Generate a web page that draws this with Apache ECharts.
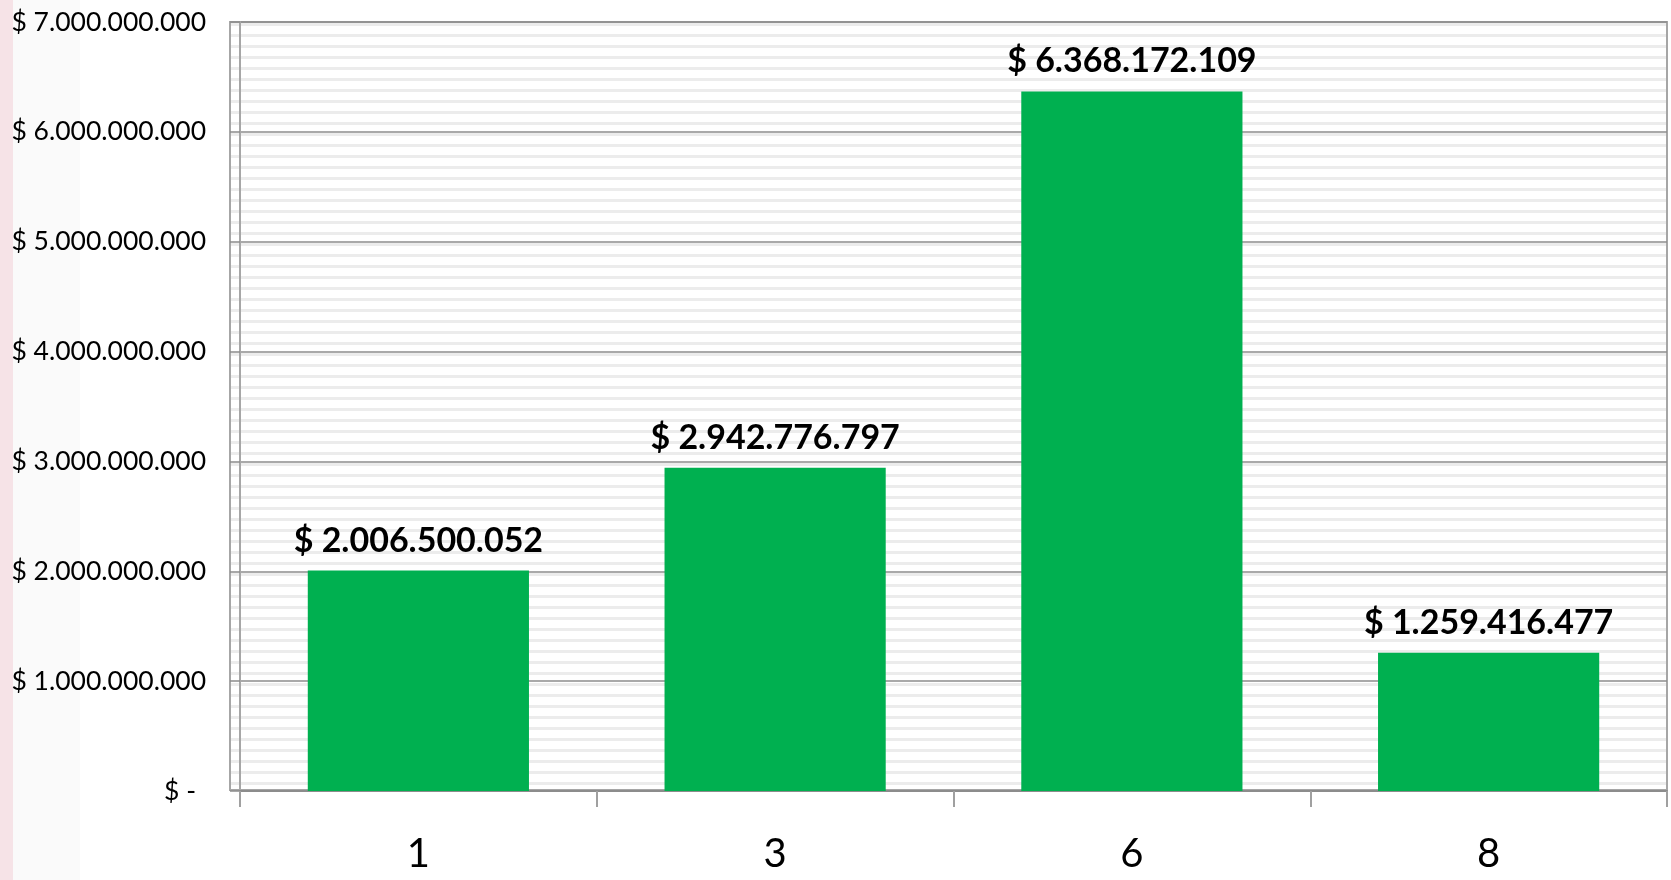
<!DOCTYPE html>
<html>
<head>
<meta charset="utf-8">
<script src="https://cdn.jsdelivr.net/npm/echarts@6/dist/echarts.min.js"></script>
<style>
  html, body { margin: 0; padding: 0; background: #fff; }
  #chart { width: 1671px; height: 880px; }
</style>
</head>
<body>
<div id="chart"></div>
<script>
// datos del grafico
var categorias = ['1', '3', '6', '8'];
var valores = [2006500052, 2942776797, 6368172109, 1259416477];
var ejeMax = 7000000000;
var ejePaso = 1000000000;

function miles(v) {
    return String(Math.round(v)).replace(/\B(?=(\d{3})+(?!\d))/g, '.');
}

// fondo rayado del area del grafico
function rayas() {
    var c = document.createElement('canvas');
    c.width = 8;
    c.height = 11;
    var ctx = c.getContext('2d');
    ctx.fillStyle = '#ffffff';
    ctx.fillRect(0, 0, 8, 11);
    ctx.fillStyle = '#ececec';
    ctx.fillRect(0, 1, 8, 3);
    return c;
}

var myChart = echarts.init(document.getElementById('chart'));

var options = {
    backgroundColor: '#ffffff',
    animation: false,
    textStyle: { fontFamily: 'Lato' },
    graphic: [
        { type: 'rect', left: 0, top: 0, shape: { width: 13, height: 880 }, style: { fill: '#f6e3e7' }, silent: true, z: -10 },
        { type: 'rect', left: 13, top: 0, shape: { width: 67, height: 880 }, style: { fill: '#fafafa' }, silent: true, z: -10 },
        {
            type: 'rect', x: 230, y: 22,
            shape: { x: 0, y: 0, width: 1437, height: 768 },
            style: { fill: { image: rayas(), repeat: 'repeat' }, stroke: '#a6a6a6', lineWidth: 2 },
            silent: true, z: -5
        }
    ],
    grid: {
        left: 240,
        right: 4,
        top: 22,
        bottom: 89
    },
    xAxis: {
        type: 'category',
        data: categorias,
        axisLine: { lineStyle: { color: '#8c8c8c', width: 2 } },
        axisTick: { show: true, length: 16, lineStyle: { color: '#a0a0a0', width: 2 } },
        axisLabel: { fontSize: 40, color: '#000', margin: 43, fontFamily: 'Lato' }
    },
    yAxis: {
        type: 'value',
        min: 0,
        max: ejeMax,
        interval: ejePaso,
        axisLine: { show: true, lineStyle: { color: '#a6a6a6', width: 2 } },
        axisTick: { show: true, length: 10, lineStyle: { color: '#8c8c8c', width: 1.5 } },
        splitLine: { show: true, lineStyle: { color: '#8c8c8c', width: 1.5 } },
        axisLabel: {
            fontSize: 26.5,
            color: '#000',
            margin: 34,
            fontFamily: 'Lato',
            formatter: function (v) {
                if (v === 0) return '{z|$ -}';
                return '$ ' + miles(v);
            },
            rich: {
                z: { fontSize: 26.5, color: '#000', fontFamily: 'Lato', padding: [0, 10, 0, 0] }
            }
        }
    },
    series: [
        {
            type: 'bar',
            data: valores,
            barWidth: '62%',
            itemStyle: { color: '#00b050' },
            label: {
                show: true,
                position: 'top',
                distance: 13,
                fontSize: 34,
                fontWeight: 'bold',
                color: '#000',
                fontFamily: 'Lato',
                formatter: function (p) {
                    return '$ ' + miles(p.value);
                }
            }
        }
    ]
};

myChart.setOption(options);
</script>
</body>
</html>
